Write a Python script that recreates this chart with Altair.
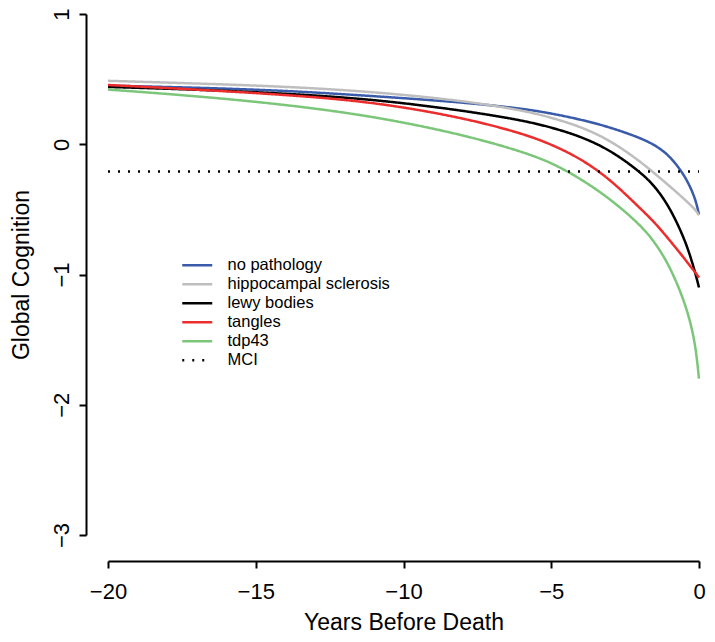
import altair as alt
import pandas as pd

# ---- data ----
years = [-20, -17, -14, -11, -8, -6, -5, -4, -3, -2, -1.5, -1, -0.5, -0.25, -0.1, 0]
no_pathology = [0.45, 0.435, 0.412, 0.37, 0.322, 0.275, 0.237, 0.19, 0.13, 0.05, -0.005, -0.085, -0.235, -0.35, -0.44, -0.54]
hippocampal_sclerosis = [0.487, 0.467, 0.443, 0.403, 0.335, 0.262, 0.205, 0.135, 0.03, -0.13, -0.225, -0.32, -0.42, -0.475, -0.51, -0.545]
lewy_bodies = [0.44, 0.42, 0.39, 0.345, 0.26, 0.185, 0.13, 0.06, -0.045, -0.21, -0.32, -0.48, -0.72, -0.89, -1.01, -1.10]
tangles = [0.455, 0.42, 0.38, 0.325, 0.205, 0.085, 0.0, -0.11, -0.27, -0.49, -0.60, -0.735, -0.875, -0.95, -0.99, -1.025]
tdp43 = [0.42, 0.37, 0.305, 0.215, 0.075, -0.055, -0.14, -0.265, -0.42, -0.615, -0.75, -0.93, -1.20, -1.40, -1.58, -1.80]
mci_years = [-20, 0]
mci_level = -0.21

series_names = ["no pathology", "hippocampal sclerosis", "lewy bodies", "tangles", "tdp43", "MCI"]
series_colors = ["#3A5BAA", "#BEBEBE", "#000000", "#EC2D2D", "#7CC67A", "#000000"]
series_dash = [[1, 0], [1, 0], [1, 0], [1, 0], [1, 0], [2, 8]]
x_ticks = [-20, -15, -10, -5, 0]
y_ticks = [-3, -2, -1, 0, 1]

rows = []
for i, (name, vals) in enumerate(zip(series_names[:5],
                                     [no_pathology, hippocampal_sclerosis, lewy_bodies, tangles, tdp43])):
    for x, y in zip(years, vals):
        rows.append({"series": name, "year": x, "value": y, "k": i})
for x in mci_years:
    rows.append({"series": "MCI", "year": x, "value": mci_level, "k": 5})
df = pd.DataFrame(rows)

FONT = "Liberation Sans"

chart = alt.Chart(df).mark_line(strokeWidth=2.5, interpolate="basis").encode(
    x=alt.X("year:Q",
            scale=alt.Scale(domain=[-20, 0], nice=False, zero=False),
            axis=alt.Axis(values=x_ticks, offset=26, tickSize=7, labelPadding=13,
                          title="Years Before Death", titlePadding=9,
                          labelFlush=False, labelOverlap=False, format="d")),
    y=alt.Y("value:Q",
            scale=alt.Scale(domain=[-3, 1], nice=False, zero=False),
            axis=alt.Axis(values=y_ticks, offset=22, tickSize=7, labelPadding=6,
                          labelAngle=-90, labelAlign="center", labelBaseline="bottom",
                          title="Global Cognition", titlePadding=17,
                          labelFlush=False, labelOverlap=False, format="d")),
    color=alt.Color("series:N", sort=series_names,
                    scale=alt.Scale(domain=series_names, range=series_colors),
                    legend=alt.Legend(title=None)),
    strokeDash=alt.StrokeDash("series:N", sort=series_names,
                              scale=alt.Scale(domain=series_names, range=series_dash),
                              legend=alt.Legend(title=None)),
    detail="k:O",
).properties(
    width=591,
    height=521,
    autosize=alt.AutoSizeParams(type="none"),
    padding={"left": 100, "top": 6, "right": 8, "bottom": 99},
).configure_view(
    stroke=None
).configure_axis(
    grid=False,
    domainColor="black", domainWidth=2,
    tickColor="black", tickWidth=2,
    labelColor="black", labelFont=FONT, labelFontSize=22,
    titleColor="black", titleFont=FONT, titleFontSize=23, titleFontWeight="normal",
).configure_legend(
    orient="none", legendX=81, legendY=243,
    symbolType="M-3,0L3,0", symbolSize=100, symbolStrokeWidth=2.5,
    labelFont=FONT, labelFontSize=16.5, labelColor="black", labelLimit=0,
    labelOffset=22, rowPadding=2, padding=0,
)

chart.save("out.html", embed_options={"renderer": "svg", "actions": False})
